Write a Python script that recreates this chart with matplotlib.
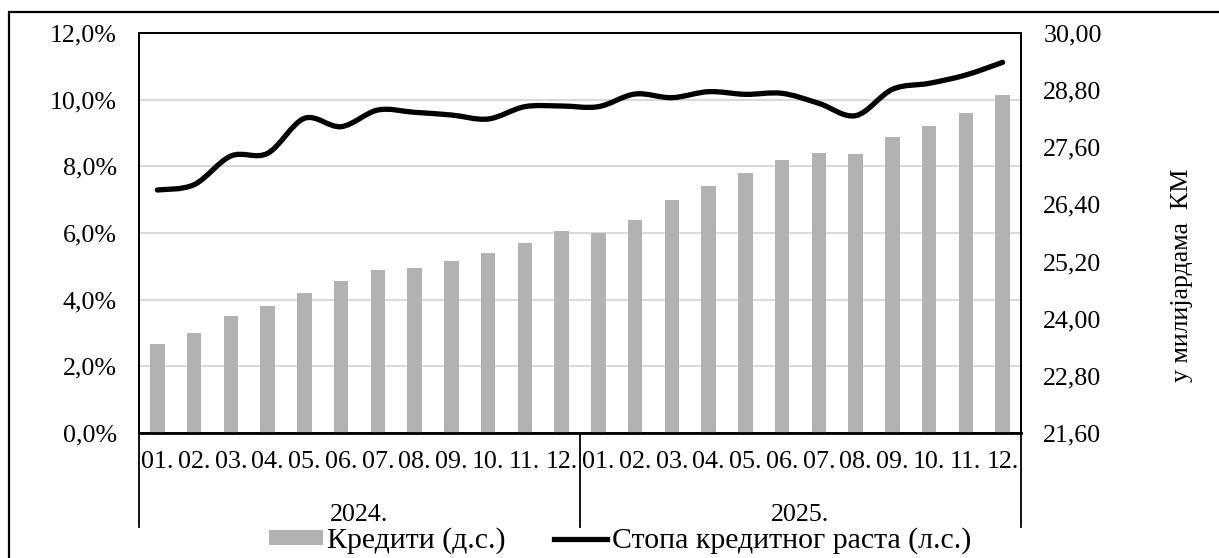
import matplotlib
matplotlib.use("Agg")
from matplotlib import pyplot as plt
from matplotlib.path import Path
from matplotlib.patches import PathPatch, Rectangle, Patch
from matplotlib.lines import Line2D
import numpy as np

plt.rcParams['font.family'] = ['Liberation Serif', 'DejaVu Serif']

months = ['01.', '02.', '03.', '04.', '05.', '06.', '07.', '08.', '09.', '10.', '11.', '12.']
years = ['2024.', '2025.']

# кредити, у милијардама КМ (десна скала)
credits = [23.47, 23.69, 24.06, 24.27, 24.54, 24.79, 25.02, 25.07, 25.22, 25.37, 25.59, 25.84,
           25.79, 26.08, 26.49, 26.78, 27.05, 27.34, 27.47, 27.45, 27.81, 28.05, 28.31, 28.69]
# стопа кредитног раста, % (лијева скала)
growth = [7.29, 7.45, 8.31, 8.39, 9.44, 9.19, 9.69, 9.62, 9.54, 9.42, 9.79, 9.81,
          9.79, 10.17, 10.06, 10.24, 10.16, 10.19, 9.89, 9.52, 10.31, 10.49, 10.74, 11.12]

left_ticks = [0, 2, 4, 6, 8, 10, 12]
right_ticks = [21.6, 22.8, 24.0, 25.2, 26.4, 27.6, 28.8, 30.0]

fs = 18.7
fs_leg = 21.5
W, H = 1219, 558
fig = plt.figure(figsize=(W / 100, H / 100), dpi=100)

# outer frame (cut off at right and bottom like the source)
fig.patches.append(Rectangle((9 / W, -0.2), 1.2, 1.2 - 12 / H, transform=fig.transFigure,
                             fill=False, edgecolor='black', linewidth=1.6, clip_on=False))

# left axis: percent scale, gridlines
ax = fig.add_axes([139 / W, 1 - 433 / H, (1021 - 139) / W, (433 - 33) / H])
ax.set_ylim(0, 12)
ax.set_yticks(left_ticks)
ax.set_yticklabels(['{:.1f}%'.format(v).replace('.', ',') for v in left_ticks], fontsize=fs)
ax.tick_params(axis='y', length=0, pad=16)
ax.yaxis.grid(True, color='#d9d9d9', linewidth=1.5)
n = len(credits)
x = np.arange(n)
ax.set_xlim(-0.5, n - 0.5)
ax.set_xticks([])

# right axis: bars
ax2 = ax.twinx()
ax2.bar(x, credits, width=0.4, color='#b2b2b2', zorder=2)
ax2.set_ylim(21.6, 30.0)
ax2.set_yticks(right_ticks)
ax2.set_yticklabels(['{:.2f}'.format(v).replace('.', ',') for v in right_ticks], fontsize=fs)
ax2.tick_params(axis='y', length=0, pad=16)
ax2.set_xticks([])

# smoothed line (Excel-like Catmull-Rom bezier) in left-axis units, drawn above bars
pts = np.column_stack([x, growth]).astype(float)
verts = [pts[0]]
codes = [Path.MOVETO]
for i in range(n - 1):
    p0 = pts[i - 1] if i > 0 else pts[i]
    p1 = pts[i]
    p2 = pts[i + 1]
    p3 = pts[i + 2] if i + 2 < n else pts[i + 1]
    verts += [p1 + (p2 - p0) / 6, p2 - (p3 - p1) / 6, p2]
    codes += [Path.CURVE4] * 3
ax2.add_patch(PathPatch(Path(verts, codes), transform=ax.transData, fill=False,
                        edgecolor='black', linewidth=3.8, capstyle='round',
                        joinstyle='round', zorder=3))

for a in (ax, ax2):
    for s in a.spines.values():
        s.set_color('black')
        s.set_linewidth(1.3)
ax2.spines['bottom'].set_linewidth(2)

# two-level category axis
tr = ax.get_xaxis_transform()
for i in range(n):
    ax.text(i, -0.072, months[i % 12], transform=tr, ha='center', va='center', fontsize=fs)
for k, yr in enumerate(years):
    ax.text(k * 12 + 5.5, -0.205, yr, transform=tr, ha='center', va='center', fontsize=fs)
for xs in (-0.5, 11.5, n - 0.5):
    ax.plot([xs, xs], [0, -0.235], transform=tr, color='black', linewidth=1.3, clip_on=False)

fig.text(1182 / W, 1 - 275 / H, 'у милијардама  КМ', rotation=90, ha='center', va='center',
         fontsize=fs)

handles = [Patch(facecolor='#b2b2b2', edgecolor='none'),
           Line2D([0], [0], color='black', linewidth=3.8)]
fig.legend(handles, ['Кредити (д.с.)', 'Стопа кредитног раста (л.с.)'], loc='center',
           bbox_to_anchor=(620 / W, 1 - 541 / H), ncol=2, frameon=False, fontsize=fs_leg,
           handlelength=1.8, handleheight=0.4, handletextpad=0.15, columnspacing=1.6,
           borderpad=0, borderaxespad=0)

plt.savefig('out.png', dpi=100)
